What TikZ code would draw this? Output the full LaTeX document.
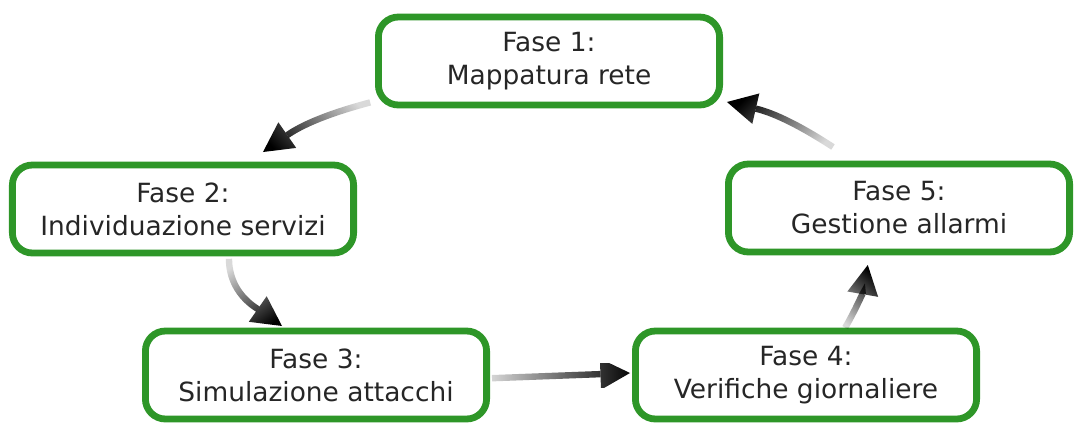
\documentclass[tikz,border=0pt]{standalone}
\usepackage{fontspec}
\setmainfont{DejaVu Sans}
\usetikzlibrary{arrows.meta, shadows, fadings}

\definecolor{fasegreen}{RGB}{46,150,40}
\tikzfading[name=arrowfade, left color=transparent!85, middle color=transparent!0, right color=transparent!0]

\begin{document}
\begin{tikzpicture}[
  font=\fontsize{18.8}{23.5}\selectfont,
  fase/.style={
    draw=fasegreen,
    fill=white,
    rounded corners=0.5cm,
    line width=0.17cm,
    align=center,
    text=black!85,
    minimum width=8.53cm,
    minimum height=2.2cm,
    drop shadow={opacity=0.15, shadow xshift=0.05cm, shadow yshift=-0.05cm}
  },
  flow/.style={
    line width=0.16cm,
    -{Triangle[length=0.74cm, width=0.78cm, line width=0pt]},
    path fading=arrowfade
  }
]

\useasboundingbox (0,0) rectangle (26.925,-10.675);

% -------------------------------------------------------------------
% Phases
% -------------------------------------------------------------------
\node[fase] (f1) at (13.725,-1.525) {Fase 1:\\Mappatura rete};
\node[fase] (f2) at (4.575,-5.225) {Fase 2:\\Individuazione servizi};
\node[fase] (f3) at (7.9,-9.375) {Fase 3:\\Simulazione attacchi};
\node[fase] (f4) at (20.15,-9.375) {Fase 4:\\Verifiche giornaliere};
\node[fase] (f5) at (22.475,-5.2) {Fase 5:\\Gestione allarmi};

% -------------------------------------------------------------------
% Cycle arrows
% -------------------------------------------------------------------
\draw[flow, fading angle=205]
  ([xshift=-0.12cm, yshift=0.15cm]f1.south west)
  to[bend right=10] ([xshift=2.0cm, yshift=0.24cm]f2.north);
\draw[flow, fading angle=-60]
  ([xshift=1.15cm, yshift=-0.06cm]f2.south)
  to[out=-90, in=145] ([xshift=-0.85cm, yshift=0.04cm]f3.north);
\draw[flow, fading angle=0]
  ([xshift=0.05cm, yshift=-0.08cm]f3.east) -- ([xshift=-0.05cm, yshift=0.05cm]f4.west);
\draw[flow, fading angle=70]
  ([xshift=0.98cm]f4.north)
  to[bend right=10] ([xshift=-0.78cm, yshift=-0.24cm]f5.south);
\draw[flow, fading angle=155]
  ([xshift=-1.65cm, yshift=0.34cm]f5.north)
  to[bend right=10] ([xshift=0.1cm, yshift=0.16cm]f1.south east);

\end{tikzpicture}
\end{document}
